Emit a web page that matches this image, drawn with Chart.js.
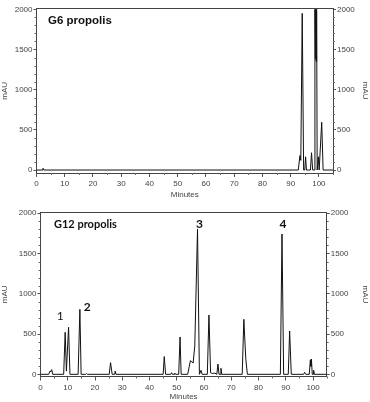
<!DOCTYPE html>
<html><head><meta charset="utf-8">
<script src="https://cdn.jsdelivr.net/npm/chart.js@4.4.1/dist/chart.umd.min.js"></script>
<style>
html,body{margin:0;padding:0;background:#fff;width:370px;height:402px;overflow:hidden}
.p{position:absolute;left:0;width:370px}
#w1{top:0;height:200px}
#w2{top:200px;height:202px}
</style></head><body>
<div id="w1" class="p"><canvas id="c1" width="370" height="200"></canvas></div>
<div id="w2" class="p"><canvas id="c2" width="370" height="202"></canvas></div>
<script>
// ---- data ----
const g6Minutes = [0, 2.0, 2.3, 2.6, 92.7, 93.3, 93.6, 94.1, 94.6, 95.0, 95.3, 95.6, 97.0, 97.4, 97.8, 98.4, 98.6, 98.75, 98.9, 99.05, 99.2, 99.4, 99.8, 100.1, 101.0, 101.5, 105];
const g6mAU     = [0, 0, 22, 0, 0, 180, 120, 1950, 0, 0, 165, 0, 0, 215, 0, 0, 2000, 1380, 2000, 1350, 2000, 0, 165, 0, 595, 0, 0];

const g12Minutes = [0, 3.0, 3.5, 3.8, 4.1, 4.5, 8.5, 9.05, 9.5, 10.3, 10.8, 13.8, 14.45, 14.9, 16.6, 16.9, 17.2, 25.2, 25.7, 26.3, 27.2, 27.4, 27.7,
  45.0, 45.4, 45.9, 47.8, 48.1, 48.4, 49.1, 49.3, 49.6, 50.7, 51.2, 51.6, 54.0, 55.0, 56.0, 56.6, 57.6, 58.3, 58.9, 59.3,
  61.2, 61.8, 62.4, 63.0, 64.0, 64.7, 65.1, 65.5, 65.9, 66.2, 66.5, 74.0, 74.6, 75.3, 75.9, 88.0, 88.6, 89.2, 90.9, 91.4, 92.0,
  96.5, 96.9, 97.3, 98.6, 99.0, 99.2, 99.4, 99.7, 100.0, 100.2, 100.5, 105];
const g12mAU = [0, 0, 40, 35, 58, 0, 0, 522, 40, 584, 0, 0, 807, 0, 0, 10, 0, 0, 145, 0, 0, 40, 0,
  0, 220, 0, 0, 20, 0, 0, 15, 0, 0, 464, 0, 0, 170, 140, 350, 1800, 0, 50, 0,
  0, 737, 20, 10, 15, 0, 128, 0, 0, 75, 0, 0, 683, 200, 0, 0, 1743, 0, 0, 538, 0,
  0, 25, 0, 0, 180, 100, 190, 0, 0, 50, 0, 0];

const xTickValues = [0, 10, 20, 30, 40, 50, 60, 70, 80, 90, 100];
const yTickValues = [0, 500, 1000, 1500, 2000];
const g12PeakLabels = ['1', '2', '3', '4'];
const xTitle = 'Minutes';
const yTitle = 'mAU';

const TICK_FONT = {family: 'Liberation Sans, Arial, sans-serif', size: 8};
const INK = '#444';

const minorTicks = {
  id: 'minorTicks',
  afterDraw(chart) {
    const ctx = chart.ctx, a = chart.chartArea;
    const x = chart.scales.x, y = chart.scales.y;
    ctx.save();
    ctx.strokeStyle = '#666'; ctx.lineWidth = 1;
    ctx.beginPath();
    for (let v = 100; v <= 2000; v += 100) {
      if (v % 500 === 0) continue;
      const py = Math.round(y.getPixelForValue(v)) + 0.5;
      ctx.moveTo(a.left - 2, py); ctx.lineTo(a.left, py);
      ctx.moveTo(a.right, py); ctx.lineTo(a.right + 2, py);
    }
    for (let v = 5; v <= 105; v += 10) {
      const px = Math.round(x.getPixelForValue(v)) + 0.5;
      ctx.moveTo(px, a.bottom); ctx.lineTo(px, a.bottom + 2);
    }
    ctx.stroke();
    const o = chart.options.plugins.minorTicks || {};
    (o.texts || []).forEach(t => {
      ctx.font = t.font; ctx.fillStyle = t.color || '#111';
      ctx.textAlign = t.align || 'left'; ctx.textBaseline = 'middle';
      let px, py;
      if (t.data) { px = x.getPixelForValue(t.data[0]); py = y.getPixelForValue(t.data[1]); }
      else { px = t.px[0]; py = t.px[1]; }
      ctx.fillText(t.text, px, py);
    });
    ctx.restore();
  }
};

function makeChart(id, times, values, o) {
  const gridCfg = {display: true, drawOnChartArea: false, drawTicks: true, tickLength: 3, color: '#555'};
  const yAxis = (pos, w) => ({
    type: 'linear', position: pos, min: o.yMin, max: o.yMax,
    afterBuildTicks: s => { s.ticks = yTickValues.map(v => ({value: v})); },
    afterFit: s => { s.width = w; },
    grid: gridCfg,
    border: {display: true, color: INK, width: 1},
    ticks: {font: TICK_FONT, color: INK, padding: 1, autoSkip: false, callback: v => String(v)},
    title: {display: true, text: yTitle, font: TICK_FONT, color: INK, padding: 0}
  });
  return new Chart(document.getElementById(id), {
    type: 'line',
    data: {datasets: [{data: times.map((t, i) => ({x: t, y: values[i]})), borderColor: '#111', borderWidth: 1,
      pointRadius: 0, tension: 0, fill: false}]},
    options: {
      responsive: false, animation: false, devicePixelRatio: 1,
      layout: {padding: {top: o.top, left: 0, right: 0, bottom: 0}},
      plugins: {legend: {display: false}, tooltip: {enabled: false}, minorTicks: {texts: o.texts}},
      scales: {
        x: {type: 'linear', position: 'bottom', min: 0, max: 105,
          afterBuildTicks: s => { s.ticks = xTickValues.map(v => ({value: v})); },
          afterFit: s => { s.height = o.bottomH; },
          grid: {display: true, drawOnChartArea: false, drawTicks: true, tickLength: 4, color: '#555'},
          border: {display: true, color: INK, width: 1},
          ticks: {font: TICK_FONT, color: INK, padding: 2, maxRotation: 0, autoSkip: false, callback: v => String(v)},
          title: {display: true, text: xTitle, font: TICK_FONT, color: INK, padding: {top: 1, bottom: 0}}
        },
        xTop: {type: 'linear', position: 'top', min: 0, max: 105,
          afterFit: s => { s.height = 0; },
          grid: {display: false, drawOnChartArea: false, drawTicks: false},
          border: {display: true, color: INK, width: 1},
          ticks: {display: false}
        },
        y: yAxis('left', o.leftW),
        y2: yAxis('right', o.rightW)
      }
    },
    plugins: [minorTicks]
  });
}

makeChart('c1', g6Minutes, g6mAU, {
  yMin: -37, yMax: 2010, top: 8.5, bottomH: 27, leftW: 36.5, rightW: 37,
  texts: [{text: 'G6 propolis', font: 'bold 11.5px "Liberation Sans", Arial, sans-serif', px: [48, 21]}]
});
makeChart('c2', g12Minutes, g12mAU, {
  yMin: -27, yMax: 2012, top: 12.3, bottomH: 25.5, leftW: 40.5, rightW: 43.3,
  texts: [
    {text: 'G12 propolis', font: 'bold 11px Lato, sans-serif', px: [54, 24.5]},
    {text: g12PeakLabels[0], font: '12px Lato, sans-serif', data: [7.2, 728], align: 'center'},
    {text: g12PeakLabels[1], font: 'bold 12px Lato, sans-serif', data: [17.1, 832], align: 'center'},
    {text: g12PeakLabels[2], font: 'bold 12px Lato, sans-serif', data: [58.3, 1867], align: 'center'},
    {text: g12PeakLabels[3], font: 'bold 12px Lato, sans-serif', data: [89.0, 1867], align: 'center'}
  ]
});
</script>
</body></html>
